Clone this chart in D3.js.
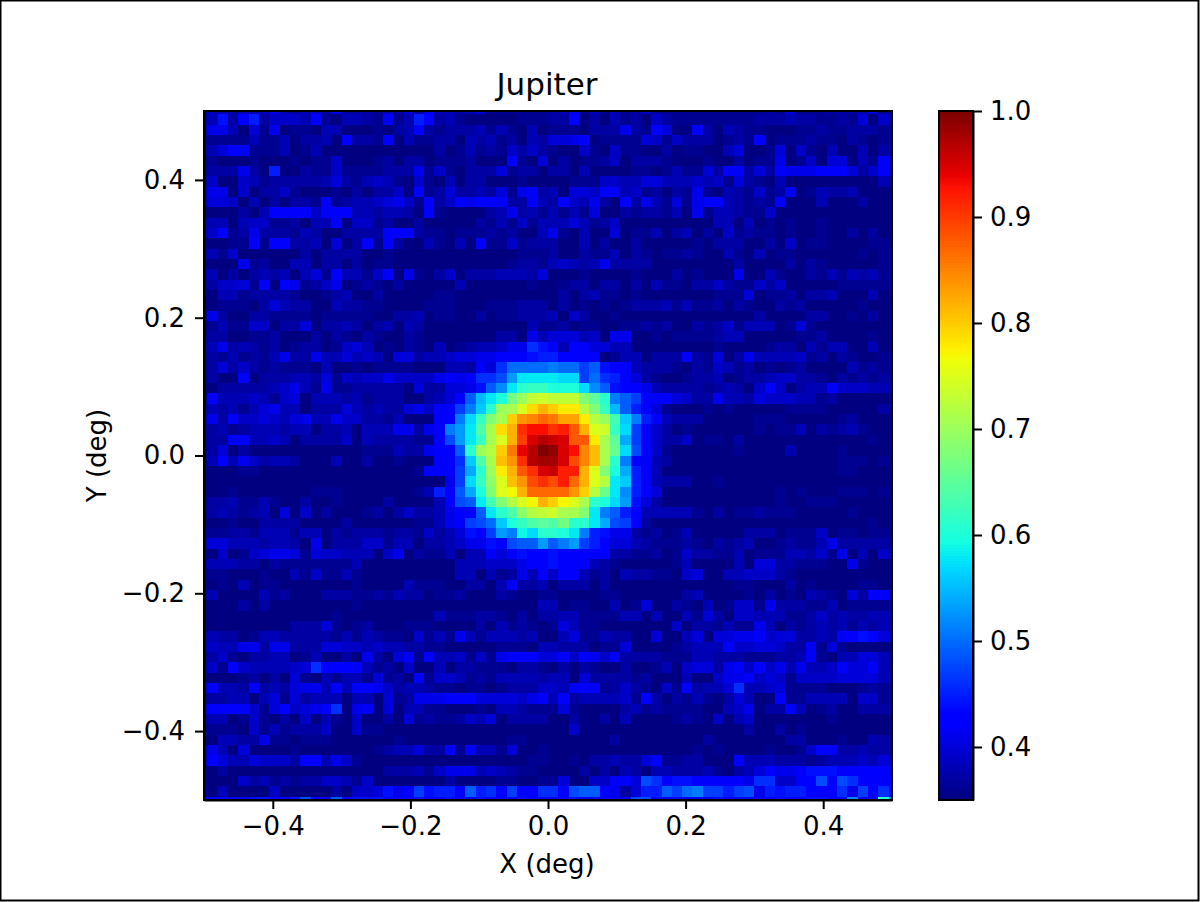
<!DOCTYPE html>
<html>
<head>
<meta charset="utf-8">
<script src="https://cdn.jsdelivr.net/npm/d3@7"></script>
<style>
  html, body { margin: 0; padding: 0; background: #fff; overflow: hidden; }
  text { font-family: "DejaVu Sans", sans-serif; fill: #000; }
  .tick text { font-size: 26px; }
  .tick line, .domain { stroke: #000; }
</style>
</head>
<body>
<svg id="chart" width="1200" height="902"></svg>
<script>
/*** Data ***/

const title = "Jupiter";
const xLabel = "X (deg)";
const yLabel = "Y (deg)";

const xTicks = [-0.4, -0.2, 0.0, 0.2, 0.4];
const yTicks = [-0.4, -0.2, 0.0, 0.2, 0.4];
const barTicks = [0.4, 0.5, 0.6, 0.7, 0.8, 0.9, 1.0];

const valueRange = [0.35, 1.0];
const axisRange = [-0.5, 0.5];

// bins are 0.015 deg wide and overhang the axes a little on each side
const binStart = -0.51;
const binSize = 0.015;

// one char per cell, position in levelChars = value in hundredths above 0.35
const levelChars = "0123456789abcdefghijklmnopqrstuvwxyzABCDEFGHIJKLMNOPQRSTUVWXYZ!@#$";

// top row first, four groups of 17 cells
const rows = [
  "23323336323426222 13252633235111111 23613131242111111 11112151112223511",
  "33927a24443810332 1713a723100000111 22702031204211111 11122232211215042",
  "36630516011033000 10237212223131030 11102226218500720 32110001121122211",
  "21111311302230722 17031122032312032 55670111154142220 12170111211021011",
  "23577111301300000 00000020131214242 10041041100201100 35001504103003021",
  "11000100010114000 12022011120007105 02011240222100010 02011601405503182",
  "1222620a002114111 12226141022251220 22030000110131152 77252766678752473",
  "24004312222235213 43104103022000100 00111443355333434 15210300000000031",
  "36604022410001020 22407125223251672 30554773412021610 32141270132230000",
  "35540302022171233 45641724868772273 27436208263151688 32121700030002000",
  "00002037777477733 23320710000236231 31315002122130613 32114000000000000",
  "23303441120337044 12002000002131413 33531240000000003 30301010010000000",
  "34712622213200222 27772110111212003 61030050113023020 41211010010020200",
  "10011717722305027 17200310307114122 20030200200000102 22002040110000110",
  "23140000002022220 01000000000000111 20021130210112100 31030110000001011",
  "10006120033022020 11000000000001221 34323622220000000 02000020210000011",
  "33020232303517331 47061024022233325 00010000100020100 06003100213132311",
  "22445170761246012 10200000300000010 01220220203110224 21142400000111111",
  "10331222210012300 20000011000000000 02023110100000001 11501120223000300",
  "00111025322003221 10000111000111222 02010101222313112 02100212000001000",
  "26200221111011111 00223011002011222 30420010000000000 00020000220010200",
  "01311440225022320 23032000000000031 12011001121200212 41333015100000000",
  "12200112000202102 10021000000022063 55534066001011112 33000001120000100",
  "23623212012201453 010210301233466b9 73775533000000001 00001220313300300",
  "12131213622633534 3055233455667779a a8777013302227215 02633334120210011",
  "12524212111030010 111100033275bffff gffce987322210214 31201012000031211",
  "12007022233251434 4644446767bbdinnn nmmcfba7521001223 01223442210212121",
  "00222223463161122 22205225569ehnqrr pppmhe98763222212 32048402337444332",
  "17333431450333231 222002358eknpwzCD CCCxuqgec87754226 33254443312000000",
  "23231356330222532 32256477cglqzAEIL JHHBxrkea85100010 10000011110000021",
  "36274454356336442 21300078gmrxAJNOQ PMMHBzslga7322200 00011100000120000",
  "22312333233022303 3366267gintAILUWW UVRLEDrmc74201000 00010113021231000",
  "12277334302222403 2222118dinrAELTY! ZYRRHAujc84224011 02000000000000100",
  "12502000000000001 11322677eqzBJPX!$ #YWOKAvmd84100000 01000030000100000",
  "13736423320003002 00100077bltAKNU!@ @YSOKAqg873200000 00000000000111010",
  "00001100000000000 00001777cjqzHLRUY ZVVLExpja73000000 00000000000110000",
  "00000000000000000 00000006cmryEKNSU SVQLEBnla73222001 00000000000000000",
  "00010000000111000 000013a8ejpxEGLQQ QQNJBvnha75000000 00000101000111010",
  "12231131002001000 02000037densxBEGL JGEAqpmi952000000 00000100111000000",
  "12321230504020001 2024223688enqtyBC DAAxngea733333102 01121110000010000",
  "00010022220000200 000011367cdflprtu twqqnjdc720000000 00000000000000100",
  "21122133313302122 21221423597cigomq qpnga966212013000 00222011140110110",
  "35533323320602224 4133022346698deei egica755321112102 12300121136222221",
  "10401456651544333 04602113033757988 97777722112014221 13011133241603042",
  "33332202111111130 00000000333444677 97773210000013000 03055221110061000",
  "11100010031411310 00000000330312637 47731203221104500 33444210000000000",
  "10103011000000010 00031110022037223 02220200000000000 01100020100001100",
  "23000031200022211 21322011200021001 10000110000002300 00102010321052771",
  "00002020000000010 00000000000000003 30110030150021030 14416222113011111",
  "00000000000001000 00000031112210202 23311113303003152 04433311242322332",
  "00000000022251012 00011100002031210 15311000000040221 31163021232313232",
  "23220133222221313 21104131631333230 03511322005003505 56674552232779853",
  "34336626622255443 43322110000011103 32220115000012333 84455422715100000",
  "12410223301300206 20571733414167775 57476472222111332 22111223710335531",
  "24184333345b77873 12040030221110221 02021002001304552 67474636334855731",
  "00001202051031331 51207144312133332 33052222120003004 66745414444555532",
  "47332723256637377 64233211011012224 43777124210418233 5b334511110001211",
  "12233035152333033 05126667775555467 37233334182021310 25300711333304411",
  "5777741574568b067 05033110001033211 15100002312111100 34602283012002221",
  "23301410204031040 02051211243502222 00200203000012104 03400000001000000",
  "11110413122240041 10000000000000000 00400000000000000 00200201000000000",
  "00332261101110000 00100000000001100 00000020000000020 00000022000100321",
  "36305000010000000 12335227173315001 00000000000000101 00001001477223221",
  "47533544427736410 00000000000000011 00102232257112200 07333222123334353",
  "10200000000000000 02223146663432110 00020203203322231 02357667999777885",
  "10004231212244314 00000002000011001 150044775db799877 776bb4488d7db7786",
  "30300004000002044 5968c9aa8eab8c77b b8dee7625aaecfgcc acd6a9aa777b6c7b8",
  "7777799779d77e799 97779779779777977 77977777dd7777779 777779779977h77qh"
];

/*** Config ***/

const WIDTH = 1200;
const HEIGHT = 902;
const plot = { left: 204, right: 892, top: 111, bottom: 800 };
const bar = { left: 939, right: 973 };

/*** Helpers ***/

const decodeRow = row => row.replace(/ /g, "").split("").map(c => 0.35 + levelChars.indexOf(c) / 100);
const formatTick = d => d3.format(".1f")(d).replace("-", "\u2212");

// matplotlib jet, one piecewise channel each
const jetR = d3.scaleLinear().domain([0, 0.35, 0.66, 0.89, 1]).range([0, 0, 1, 1, 0.5]);
const jetG = d3.scaleLinear().domain([0, 0.125, 0.375, 0.64, 0.91, 1]).range([0, 0, 1, 1, 0, 0]);
const jetB = d3.scaleLinear().domain([0, 0.11, 0.34, 0.65, 1]).range([0.5, 1, 1, 0, 0]);
const jet = t => d3.rgb(jetR(t) * 255, jetG(t) * 255, jetB(t) * 255).formatHex();

const colorScale = d3.scaleSequential(jet).domain(valueRange).clamp(true);

/*** Main ***/

const svg = d3.select("#chart");

svg.append("rect")
  .attr("x", 0.5).attr("y", 0.5)
  .attr("width", WIDTH - 2).attr("height", HEIGHT - 2)
  .attr("fill", "#fff").attr("stroke", "#000").attr("stroke-width", 2);

const x = d3.scaleLinear().domain(axisRange).range([plot.left, plot.right]);
const y = d3.scaleLinear().domain(axisRange).range([plot.bottom, plot.top]);
const barY = d3.scaleLinear().domain(valueRange).range([plot.bottom, plot.top]);

const defs = svg.append("defs");

defs.append("clipPath").attr("id", "plot-clip")
  .append("rect")
  .attr("x", plot.left).attr("y", plot.top)
  .attr("width", plot.right - plot.left).attr("height", plot.bottom - plot.top);

// the reference is a slightly resampled image, cell edges are a bit soft
defs.append("filter").attr("id", "soft")
  .append("feGaussianBlur").attr("stdDeviation", 0.6);

// heatmap
const cells = rows.flatMap((row, r) => decodeRow(row).map((value, c) => ({ r, c, value })));

svg.append("g").attr("clip-path", "url(#plot-clip)")
  .append("g").attr("filter", "url(#soft)").attr("shape-rendering", "crispEdges")
  .selectAll("rect").data(cells).join("rect")
  .attr("x", d => x(binStart + d.c * binSize))
  .attr("y", d => y(-binStart - d.r * binSize))
  .attr("width", x(binSize) - x(0) + 0.5)
  .attr("height", y(0) - y(binSize) + 0.5)
  .attr("fill", d => colorScale(d.value));

// colorbar
const barLevels = d3.range(256).map(i => valueRange[0] + (valueRange[1] - valueRange[0]) * i / 255);
const barStep = (valueRange[1] - valueRange[0]) / 256;

svg.append("g").attr("shape-rendering", "crispEdges")
  .selectAll("rect").data(barLevels).join("rect")
  .attr("x", bar.left)
  .attr("width", bar.right - bar.left)
  .attr("y", (d, i) => barY(valueRange[0] + (i + 1) * barStep))
  .attr("height", barY(0) - barY(barStep) + 1)
  .attr("fill", d => colorScale(d));

// axes
const styleAxis = g => {
  g.selectAll(".tick line").attr("stroke-width", 2);
  g.select(".domain").attr("stroke-width", 2);
};

svg.append("g")
  .attr("transform", `translate(0,${plot.bottom})`)
  .call(d3.axisBottom(x).tickValues(xTicks).tickFormat(formatTick).tickSize(9).tickPadding(8).tickSizeOuter(0))
  .call(styleAxis);

svg.append("g")
  .attr("transform", `translate(${plot.left},0)`)
  .call(d3.axisLeft(y).tickValues(yTicks).tickFormat(formatTick).tickSize(9).tickPadding(10).tickSizeOuter(0))
  .call(styleAxis);

svg.append("g")
  .attr("transform", `translate(${bar.right},0)`)
  .call(d3.axisRight(barY).tickValues(barTicks).tickFormat(formatTick).tickSize(9).tickPadding(8).tickSizeOuter(0))
  .call(styleAxis);

// frames
svg.append("rect")
  .attr("x", plot.left).attr("y", plot.top)
  .attr("width", plot.right - plot.left).attr("height", plot.bottom - plot.top)
  .attr("fill", "none").attr("stroke", "#000").attr("stroke-width", 2);

svg.append("rect")
  .attr("x", bar.left).attr("y", plot.top)
  .attr("width", bar.right - bar.left).attr("height", plot.bottom - plot.top)
  .attr("fill", "none").attr("stroke", "#000").attr("stroke-width", 2);

// labels
svg.append("text")
  .attr("x", (plot.left + plot.right) / 2 - 1).attr("y", 95)
  .attr("text-anchor", "middle").attr("font-size", 31)
  .text(title);

svg.append("text")
  .attr("x", (plot.left + plot.right) / 2 - 1).attr("y", 873)
  .attr("text-anchor", "middle").attr("font-size", 26)
  .text(xLabel);

svg.append("text")
  .attr("transform", `translate(106,${(plot.top + plot.bottom) / 2}) rotate(-90)`)
  .attr("text-anchor", "middle").attr("font-size", 26)
  .text(yLabel);
</script>
</body>
</html>
